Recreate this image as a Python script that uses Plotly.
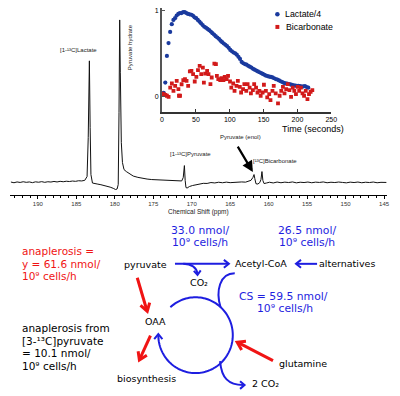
import math
import plotly.graph_objects as go

W, H = 400, 396

# ---------------- data ----------------
# 13C NMR spectrum (chemical shift in ppm, intensity in arbitrary units)
spec_ppm = [193.5, 193.1, 192.7, 192.3, 191.9, 191.5, 191.1, 190.7, 190.3, 189.9,
            189.5, 189.1, 188.7, 188.3, 187.9, 187.5, 187.1, 186.7, 186.3, 185.9,
            185.5, 185.1, 184.7, 184.3, 183.9, 183.6, 183.45, 183.3, 183.2, 183.1,
            182.9, 182.6, 182.2, 181.8, 181.4, 181.0, 180.6, 180.2, 179.9, 179.7,
            179.55, 179.45, 179.36, 179.28, 179.15, 179.0, 178.8, 178.5, 178.1, 177.6,
            177.0, 176.4, 175.8, 175.2, 174.6, 174.0, 173.4, 172.8, 172.2, 171.7,
            171.3, 171.1, 170.95, 170.85, 170.75, 170.6, 170.3, 169.9, 169.5, 169.0,
            168.5, 168.0, 167.5, 167.0, 166.5, 166.0, 165.5, 165.0, 164.5, 164.0,
            163.5, 163.0, 162.6, 162.3, 162.05, 161.9, 161.8, 161.65, 161.4, 161.15,
            161.0, 160.87, 160.75, 160.6, 160.3, 159.9, 159.4, 158.9, 158.4, 157.9,
            157.4, 156.9, 156.4, 155.9, 155.4, 154.9, 154.4, 153.9, 153.4, 152.9,
            152.4, 151.9, 151.4, 150.9, 150.4, 149.9, 149.4, 148.9, 148.4, 147.9,
            147.4, 146.9, 146.4, 145.9, 145.4, 144.9, 144.7]
spec_int = [0.5, -0.2, 0.6, 0.1, 0.8, 0.2, 0.6, -0.1, 0.7, 0.3,
            0.9, 0.2, 0.8, 0.5, 1.1, 0.6, 1.2, 0.8, 1.3, 1.0,
            1.5, 1.2, 1.8, 1.6, 2.2, 6, 45, 122, 55, 8,
            -0.5, -1.2, -1.6, -2.2, -2.9, -3.6, -4.6, -5.8, -7.0, -6.5,
            -2, 70, 163, 110, 40, 20, 13, 11, 9, 6.5,
            5.2, 4.2, 3.5, 3.0, 2.7, 2.4, 2.0, 1.6, 1.4, 1.2,
            1.6, 5, 17, 2, -5, -5.5, -4, -3, -2.2, -1.4,
            -0.8, -0.9, 0.0, -0.4, 0.3, -0.2, 0.4, -0.1, 0.3, 0.0,
            0.6, 0.4, 1.0, 2.2, 5, 8, 4, -1.2, -1.5, 0,
            3, 11, 2, -1.0, -0.5, 0.3, -0.4, 0.5, -0.2, 0.4,
            0.0, 0.6, -0.3, 0.3, 0.0, 0.5, -0.2, 0.4, 0.1, 0.6,
            -0.2, 0.3, 0.0, 0.5, 0.1, -0.3, 0.4, 0.0, 0.5, -0.2,
            0.3, 0.0, 0.5, -0.2, 0.2, 0.0, 0.1]
spec_tick_vals = [190, 185, 180, 175, 170, 165, 160, 155, 150, 145]

# inset time courses (normalised signal)
lac_t = [2.4, 4.8, 7.2, 9.6, 12.0, 14.4, 16.8, 19.2, 21.6, 24.0,
         26.4, 28.8, 31.2, 33.6, 36.0, 38.4, 40.8, 43.2, 45.6, 48.0,
         50.4, 52.8, 55.2, 57.6, 60.0, 62.4, 64.8, 67.2, 69.6, 72.0,
         74.4, 76.8, 79.2, 81.6, 84.0, 86.4, 88.8, 91.2, 93.6, 96.0,
         98.4, 100.8, 103.2, 105.6, 108.0, 110.4, 112.8, 115.2, 117.6, 120.0,
         122.4, 124.8, 127.2, 129.6, 132.0, 134.4, 136.8, 139.2, 141.6, 144.0,
         146.4, 148.8, 151.2, 153.6, 156.0, 158.4, 160.8, 163.2, 165.6, 168.0,
         170.4, 172.8, 175.2, 177.6, 180.0, 182.4, 184.8, 187.2, 189.6, 192.0,
         194.4, 196.8, 199.2, 201.6, 204.0, 206.4, 208.8, 211.2, 213.6, 216.0]
lac_v = [0.04, 0.16, 0.47, 0.62, 0.75, 0.84, 0.89, 0.91, 0.94, 0.96,
         0.97, 0.97, 0.98, 0.98, 0.97, 0.96, 0.955, 0.95, 0.94, 0.92,
         0.91, 0.89, 0.87, 0.85, 0.83, 0.81, 0.80, 0.785, 0.77, 0.755,
         0.735, 0.72, 0.70, 0.685, 0.67, 0.648, 0.63, 0.615, 0.60, 0.585,
         0.565, 0.54, 0.525, 0.51, 0.50, 0.485, 0.46, 0.435, 0.40, 0.385,
         0.375, 0.368, 0.355, 0.345, 0.335, 0.32, 0.31, 0.30, 0.29, 0.28,
         0.27, 0.26, 0.25, 0.24, 0.235, 0.228, 0.225, 0.22, 0.21, 0.20,
         0.195, 0.185, 0.175, 0.165, 0.157, 0.15, 0.147, 0.143, 0.138, 0.132,
         0.128, 0.124, 0.122, 0.122, 0.118, 0.112, 0.115, 0.12, 0.108, 0.10]
bic_t = [0.0, 2.5, 4.9, 7.2, 9.7, 12.1, 14.5, 16.9, 19.4, 21.7,
         24.2, 25.0, 26.6, 28.9, 31.4, 33.9, 36.2, 38.6, 41.1, 43.4,
         45.9, 48.3, 50.7, 53.1, 55.6, 57.9, 60.3, 61.8, 63.7, 66.6,
         68.6, 71.5, 73.4, 77.3, 79.6, 81.0, 83.1, 86.0, 87.8, 90.7,
         92.6, 95.5, 97.5, 100.4, 102.3, 105.2, 107.1, 110.0, 112.0, 114.9,
         116.8, 119.7, 121.6, 124.5, 126.4, 129.4, 131.3, 134.2, 136.1, 138.9,
         141.0, 143.8, 145.7, 148.6, 150.5, 153.4, 155.4, 158.3, 160.2, 163.1,
         165.0, 167.9, 171.3, 173.7, 176.1, 178.6, 180.9, 183.4, 185.8, 188.1,
         190.6, 193.1, 195.4, 197.8, 200.3, 202.6, 205.1, 207.5, 209.8, 212.3,
         214.8, 217.1, 219.5, 222.0]
bic_v = [0.03, 0.025, 0.017, 0.006, -0.006, 0.10, 0.149, 0.064, 0.122, 0.18,
         0.083, 0.006, 0.006, 0.14, 0.188, 0.20, 0.18, 0.122, 0.29, 0.296,
         0.258, 0.172, 0.227, 0.305, 0.355, 0.258, 0.335, 0.16, 0.265, 0.297,
         0.258, 0.142, 0.219, 0.381, 0.374, 0.238, 0.20, 0.188, 0.212, 0.188,
         0.227, 0.20, 0.238, 0.172, 0.10, 0.149, 0.064, 0.122, 0.18, 0.11,
         0.044, 0.083, 0.142, 0.064, 0.142, 0.10, 0.033, 0.072, 0.142, 0.10,
         0.044, 0.064, 0.006, 0.044, 0.134, 0.064, -0.014, 0.025, -0.044, 0.064,
         0.122, 0.033, -0.083, 0.006, 0.064, 0.11, 0.033, 0.083, 0.142, 0.072,
         -0.006, 0.10, 0.064, 0.025, 0.11, 0.064, 0.10, 0.033, 0.006, 0.064,
         -0.033, 0.025, 0.052, 0.072]
time_tick_vals = [0, 50, 100, 150, 200, 250]

# ---------------- styles ----------------
BLUE_D = "#1a3a9e"
RED_D = "#d21a1a"
BLUE = "#1e1ee0"
RED = "#f01414"
SANS = "DejaVu Sans"
ARIAL = "Liberation Sans"


def px(x):
    return x / W


def py(y):
    return 1 - y / H


def P(x, y):
    return f"{px(x):.5f},{py(y):.5f}"


fig = go.Figure()
fig.add_trace(go.Scatter(x=spec_ppm, y=spec_int, mode="lines",
                         line=dict(color="#111111", width=1),
                         xaxis="x", yaxis="y", showlegend=False, hoverinfo="skip"))
fig.add_trace(go.Scatter(x=lac_t, y=lac_v, mode="markers", name="Lactate/4",
                         marker=dict(symbol="circle", size=4.2, color=BLUE_D),
                         xaxis="x2", yaxis="y2", showlegend=False))
fig.add_trace(go.Scatter(x=bic_t, y=bic_v, mode="markers", name="Bicarbonate",
                         marker=dict(symbol="square", size=3.8, color=RED_D),
                         xaxis="x2", yaxis="y2", showlegend=False))

annotations = []
shapes = []


def txt(s, x, y, size, color="black", anchor="center", family=SANS, angle=0):
    annotations.append(dict(text=s, x=px(x), y=py(y), xref="paper", yref="paper",
                            xanchor=anchor, yanchor="middle", showarrow=False,
                            textangle=angle, borderpad=0,
                            font=dict(family=family, size=size, color=color)))


def chevron(tip, frm, L, ang_deg):
    dx, dy = tip[0] - frm[0], tip[1] - frm[1]
    n = math.hypot(dx, dy)
    bx, by = -dx / n, -dy / n
    arms = []
    for s in (1, -1):
        a = math.radians(ang_deg) * s
        rx = bx * math.cos(a) - by * math.sin(a)
        ry = bx * math.sin(a) + by * math.cos(a)
        arms.append((tip[0] + L * rx, tip[1] + L * ry))
    return f"M {P(*arms[0])} L {P(*tip)} L {P(*arms[1])}"


def path_shape(path, color, width):
    shapes.append(dict(type="path", path=path, xref="paper", yref="paper",
                       line=dict(color=color, width=width), fillcolor="rgba(0,0,0,0)"))


# ---- spectrum labels ----
txt("[1-¹³C]Lactate", 78, 49, 6, "#222", family=ARIAL)
txt("Pyruvate hydrate", 130.5, 46.5, 6, "#222", family=ARIAL, angle=-90)
txt("[1-¹³C]Pyruvate", 192, 153, 6, "#222", family=ARIAL)
txt("Pyruvate (enol)", 243, 136, 6, "#222", family=ARIAL)
txt("[¹³C]Bicarbonate", 278.5, 160, 6, "#222", family=ARIAL)
txt("Chemical Shift (ppm)", 201, 211.5, 6.5, "#222", family=ARIAL)
annotations.append(dict(text="", x=px(256), y=py(171.5), xref="paper", yref="paper",
                        showarrow=True, ax=-16, ay=-27, arrowhead=2, arrowsize=1,
                        arrowwidth=2.2, arrowcolor="black", standoff=0))

# ---- inset labels / legend ----
txt("Time (seconds)", 285, 128.5, 9, "black", anchor="left", family=ARIAL)
txt("Lactate/4", 288, 13.5, 8.8, "black", anchor="left", family=ARIAL)
txt("Bicarbonate", 288.5, 26, 8.8, "black", anchor="left", family=ARIAL)
shapes.append(dict(type="circle", xref="paper", yref="paper",
                   x0=px(278.7), x1=px(283.3), y0=py(15.6), y1=py(11.0),
                   fillcolor=BLUE_D, line=dict(width=0)))
shapes.append(dict(type="rect", xref="paper", yref="paper",
                   x0=px(279.0), x1=px(283.0), y0=py(28.0), y1=py(24.0),
                   fillcolor=RED_D, line=dict(width=0)))

# ---- pathway diagram text ----
txt("anaplerosis =", 19, 250.5, 10.5, RED, anchor="left")
txt("y = 61.6 nmol/", 19, 263.3, 10.5, RED, anchor="left")
txt("10⁹ cells/h", 19, 276, 10.5, RED, anchor="left")

txt("anaplerosis from", 19, 328, 10.5, "black", anchor="left")
txt("[3-¹³C]pyruvate", 19, 340.5, 10.5, "black", anchor="left")
txt("= 10.1 nmol/", 19, 353, 10.5, "black", anchor="left")
txt("10⁹ cells/h", 19, 365.5, 10.5, "black", anchor="left")

txt("33.0 nmol/", 202, 229.7, 10.8, BLUE)
txt("10⁹ cells/h", 202, 242, 10.8, BLUE)
txt("26.5 nmol/", 311, 229.7, 10.8, BLUE)
txt("10⁹ cells/h", 311, 242, 10.8, BLUE)
txt("CS = 59.5 nmol/", 287.5, 296.3, 10.8, BLUE)
txt("10⁹ cells/h", 288.5, 308.5, 10.8, BLUE)

txt("pyruvate", 146, 264, 9.5)
txt("Acetyl-CoA", 264, 263, 9.5)
txt("alternatives", 352.5, 263, 9.5)
txt("CO₂", 201, 282, 9.5)
txt("OAA", 156.5, 321, 9.5)
txt("biosynthesis", 147.5, 378.3, 9.5)
txt("glutamine", 307.5, 363, 9.5)
txt("2 CO₂", 269, 383.5, 9.5)

# ---- pathway arrows ----
BW, RW = 2, 3
# pyruvate -> Acetyl-CoA
path_shape(f"M {P(176.5, 263.5)} L {P(231, 263.5)}", BLUE, BW)
path_shape(chevron((231.5, 263.5), (220, 263.5), 6.5, 38), BLUE, BW)
# branch to CO2
path_shape(f"M {P(185, 263.5)} Q {P(198, 264)} {P(199.5, 273.5)}", BLUE, BW)
path_shape(chevron((199.5, 274.5), (199, 266), 5.5, 40), BLUE, BW)
# alternatives -> Acetyl-CoA
path_shape(f"M {P(321.5, 263.5)} L {P(300.5, 263.5)}", BLUE, BW)
path_shape(chevron((300, 263.5), (312, 263.5), 6.5, 38), BLUE, BW)
# Acetyl-CoA into cycle
path_shape(f"M {P(237.5, 273)} C {P(222, 273)} {P(218, 291)} {P(223, 307)}", BLUE, BW)
# TCA cycle arc
cx, cy, r = 197.5, 335, 38
pts = []
ang = 132.5
while ang >= -180:
    a = math.radians(ang)
    pts.append((cx + r * math.cos(a), cy - r * math.sin(a)))
    ang -= 2.5
a = math.radians(-180)
pts.append((cx + r * math.cos(a), cy - r * math.sin(a)))
arc = "M " + " L ".join(P(*p) for p in pts)
path_shape(arc, BLUE, BW)
path_shape(chevron((cx - r, cy - 1), (cx - r, cy + 8), 6.5, 40), BLUE, BW)
# cycle -> 2 CO2
path_shape(f"M {P(222.5, 361)} C {P(224, 378)} {P(231, 385)} {P(246, 385)}", BLUE, BW)
path_shape(chevron((247.5, 385), (238, 385), 6, 40), BLUE, BW)

# red arrows
path_shape(f"M {P(138, 277.5)} L {P(147.5, 309)}", RED, RW)
path_shape(chevron((148.2, 311), (138, 277.5), 9, 33), RED, RW)
path_shape(f"M {P(151.5, 335.5)} L {P(141, 358)}", RED, RW)
path_shape(chevron((140.2, 360), (151.5, 335.5), 9, 33), RED, RW)
path_shape(f"M {P(276.5, 360.5)} L {P(242, 343)}", RED, RW)
path_shape(chevron((240, 342), (276.5, 360.5), 9, 33), RED, RW)

fig.update_layout(
    width=W, height=H,
    margin=dict(l=0, r=0, t=0, b=0),
    paper_bgcolor="white",
    plot_bgcolor="rgba(0,0,0,0)",
    showlegend=False,
    annotations=annotations,
    shapes=shapes,
    xaxis=dict(domain=[8.3 / W, 393 / W], range=[193.6, 144.6], anchor="y",
               showline=True, linecolor="black", linewidth=1,
               ticks="outside", ticklen=3, tickwidth=1, tickcolor="black",
               tickmode="array", tickvals=spec_tick_vals,
               ticktext=[str(v) for v in spec_tick_vals],
               tickfont=dict(family=ARIAL, size=6, color="#333"),
               minor=dict(dtick=1, tick0=0, ticks="outside", ticklen=2, tickcolor="black"),
               showgrid=False, zeroline=False, fixedrange=True),
    yaxis=dict(domain=[(H - 194) / H, (H - 15) / H], range=[-12, 167], anchor="x",
               visible=False, fixedrange=True),
    xaxis2=dict(domain=[163.3 / W, 336 / W], range=[0, 250], anchor="y2",
                showline=True, linecolor="#333", linewidth=1.5,
                ticks="inside", ticklen=3, tickcolor="#333",
                tickmode="array", tickvals=time_tick_vals,
                ticktext=[str(v) for v in time_tick_vals],
                tickfont=dict(family=ARIAL, size=7, color="black"),
                showgrid=False, zeroline=False, fixedrange=True),
    yaxis2=dict(domain=[(H - 111) / H, (H - 7) / H], range=[-0.18, 1.029], anchor="x2",
                showline=True, linecolor="#555", linewidth=2,
                ticks="inside", ticklen=3, tickcolor="#555",
                tickmode="array", tickvals=[0, 1], ticktext=["0", "1"],
                tickfont=dict(family=ARIAL, size=7, color="black"),
                showgrid=False, zeroline=False, fixedrange=True),
)

fig.write_html("out.html", config={"displayModeBar": False},
               post_script="document.body.style.margin='0px';document.body.style.overflow='hidden';")
